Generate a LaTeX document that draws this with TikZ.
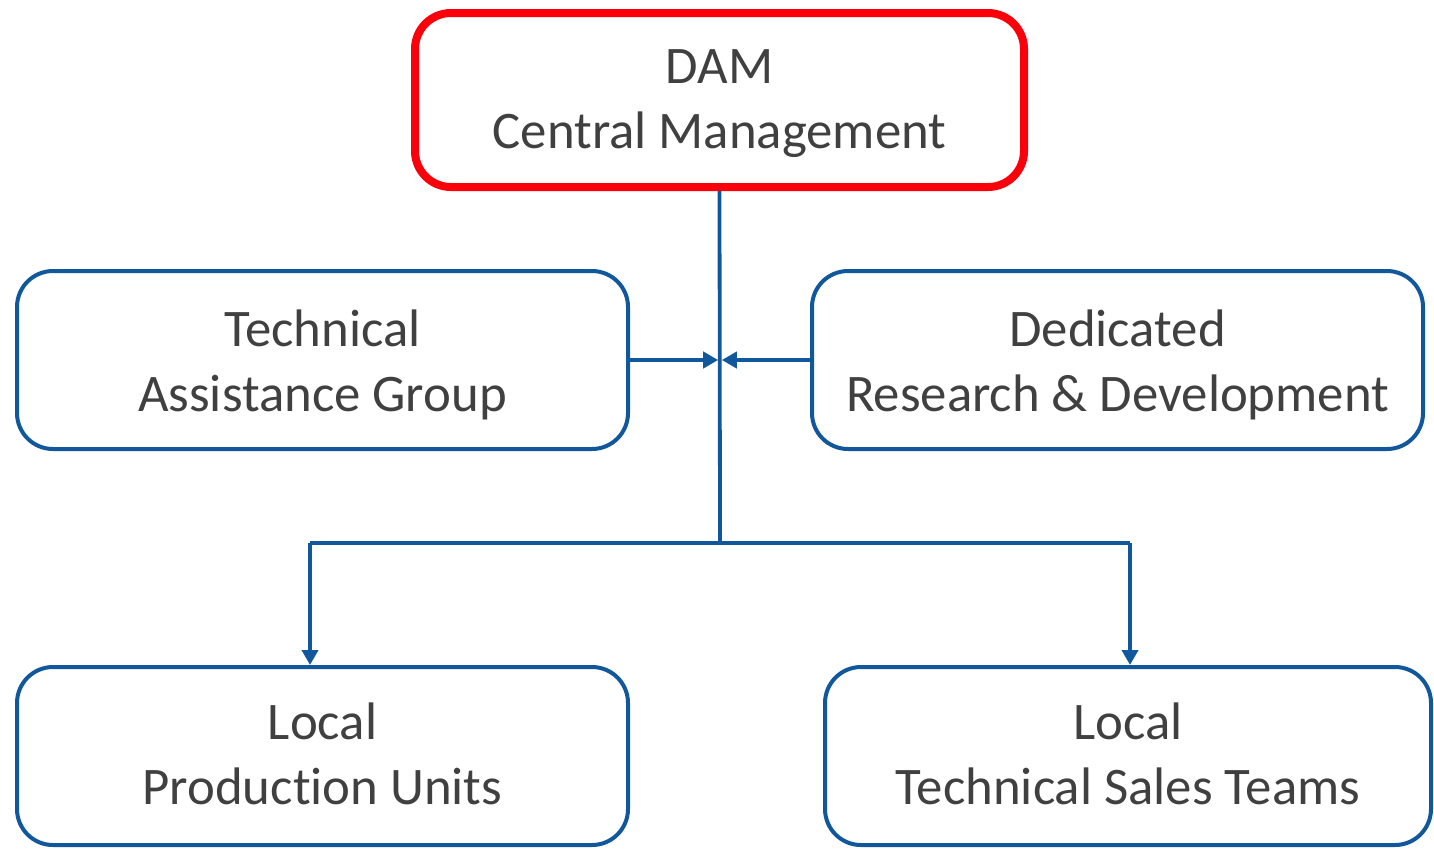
\documentclass[tikz,border=0pt]{standalone}
\usepackage{fontspec}
\setmainfont{Carlito}[Ligatures=NoCommon]
\usetikzlibrary{arrows.meta}
\definecolor{boxblue}{RGB}{16,88,155}
\definecolor{boxred}{RGB}{250,0,10}
\definecolor{txtgray}{RGB}{64,64,64}
\tikzset{
  orgbox/.style={draw=boxblue, line width=2pt, rounded corners=18pt, align=center,
    text=txtgray, font=\fontsize{26.4}{32.5}\selectfont, inner sep=0pt, text depth=0pt},
  headbox/.style={orgbox, draw=boxred, line width=4pt},
  conn/.style={draw=boxblue, line width=1.9pt},
  arr/.style={conn, -{Triangle[length=7.5pt,width=8pt]}},
}
\begin{document}
\begin{tikzpicture}[x=0.5pt,y=-0.5pt]
\useasboundingbox (0,0) rectangle (1434,848);
\node[headbox, minimum width=304.5pt, minimum height=87pt, text height=48.5pt] (dam) at (719.5,100) {DAM\\Central Management};
\node[orgbox, minimum width=305.5pt, minimum height=89pt, text height=51pt] (tag) at (322.5,360) {Technical\\Assistance Group};
\node[orgbox, minimum width=305.5pt, minimum height=89pt, text height=51pt] (rd) at (1117.5,360) {Dedicated\\Research \& Development};
\node[orgbox, minimum width=305.5pt, minimum height=89pt, text height=48pt] (lpu) at (322.5,756) {Local\\Production Units};
\node[orgbox, minimum width=303pt, minimum height=89pt, text height=48pt] (lts) at (1128,756) {Local\\Technical Sales Teams};
\coordinate (j) at (720,543);
\coordinate (c) at (720,360);
\coordinate (tl) at (310,543);
\coordinate (tr) at (1130,543);
\draw[conn] (dam.south) -- (j);
\draw[conn] (tl) -- (tr);
\draw[arr] (tl) -- (tl |- lpu.north);
\draw[arr] (tr) -- (tr |- lts.north);
\draw[arr, shorten >=0.9pt] (tag.east |- c) -- (c);
\draw[arr, shorten >=0.9pt] (rd.west |- c) -- (c);
\end{tikzpicture}
\end{document}
